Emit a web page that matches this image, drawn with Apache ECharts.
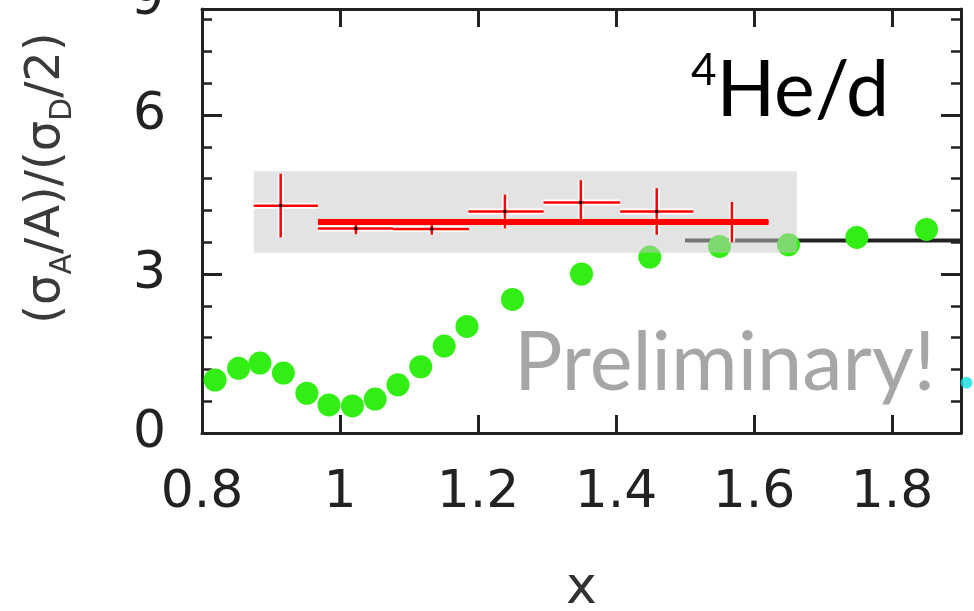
<!DOCTYPE html>
<html>
<head>
<meta charset="utf-8">
<script src="https://cdn.jsdelivr.net/npm/echarts@6.0.0/dist/echarts.min.js"></script>
<style>
html, body { margin: 0; padding: 0; background: #fff; }
#main { width: 974px; height: 611px; }
</style>
</head>
<body>
<div id="main"></div>
<script>
// axis ranges / ticks
var xMin = 0.8, xMax = 1.9, xStep = 0.2;
var yMin = 0, yMax = 8, yStep = 3;

// green points
var greenX = [0.819, 0.853, 0.884, 0.918, 0.952, 0.984, 1.018, 1.051, 1.084, 1.117,
              1.151, 1.184, 1.250, 1.350, 1.449, 1.550, 1.650, 1.749, 1.850];
var greenY = [1.00, 1.22, 1.32, 1.13, 0.75, 0.53, 0.51, 0.64, 0.91, 1.25,
              1.64, 2.01, 2.52, 3.00, 3.32, 3.52, 3.55, 3.69, 3.84];

// cyan point, cut by the right edge
var cyanX = [1.908];
var cyanY = [0.95];

// red 4He/d points: centre, x bin edges, y error
var redX   = [0.914, 1.023, 1.133, 1.239, 1.349, 1.459, 1.568];
var redY   = [4.29, 3.86, 3.85, 4.18, 4.35, 4.18, 3.98];
var redXLo = [0.875, 0.968, 1.077, 1.186, 1.295, 1.406, 1.512];
var redXHi = [0.968, 1.077, 1.187, 1.295, 1.406, 1.512, 1.621];
var redErr = [0.60, 0.11, 0.11, 0.32, 0.42, 0.44, 0.38];

// red plateau line
var fitX = [0.968, 1.621];
var fitY = [3.98, 3.98];

// black line
var blackX = [1.50, 1.90];
var blackY = [3.63, 3.63];

// grey band
var bandX = [0.875, 1.662];
var bandY = [3.40, 4.94];

function pairs(xs, ys) {
    return xs.map(function (x, i) { return [x, ys[i]]; });
}

var errData = redX.map(function (x, i) {
    return [x, redY[i], redXLo[i], redXHi[i], redErr[i]];
});

var axisColor = '#222';
var tickFont = 'DejaVu Sans';

function renderErr(params, api) {
    var x = api.value(0), y = api.value(1), e = api.value(4);
    var l = api.coord([api.value(2), y]);
    var r = api.coord([api.value(3), y]);
    var t = api.coord([x, y + e]);
    var b = api.coord([x, y - e]);
    var c = api.coord([x, y]);
    var halo = { stroke: '#fff', lineWidth: 6 };
    var red = { stroke: '#ff0000', lineWidth: 2.5 };
    return {
        type: 'group',
        children: [
            { type: 'line', shape: { x1: l[0], y1: l[1], x2: r[0], y2: r[1] }, style: halo },
            { type: 'line', shape: { x1: t[0], y1: t[1], x2: b[0], y2: b[1] }, style: halo },
            { type: 'line', shape: { x1: l[0], y1: l[1], x2: r[0], y2: r[1] }, style: red },
            { type: 'line', shape: { x1: t[0], y1: t[1], x2: b[0], y2: b[1] }, style: red },
            { type: 'rect', shape: { x: c[0] - 1.5, y: c[1] - 1.5, width: 3, height: 3 }, style: { fill: '#000' } }
        ]
    };
}

function renderBand(params, api) {
    var p0 = api.coord([api.value(0), api.value(3)]);
    var p1 = api.coord([api.value(1), api.value(2)]);
    return {
        type: 'rect',
        shape: { x: p0[0], y: p0[1], width: p1[0] - p0[0], height: p1[1] - p0[1] },
        style: { fill: 'rgba(200,200,200,0.5)' }
    };
}

var xAxisBase = {
    type: 'value', min: xMin, max: xMax, interval: xStep,
    axisLine: { show: true, onZero: false, lineStyle: { color: axisColor, width: 3 } },
    axisTick: { show: true, inside: true, length: 18, lineStyle: { color: axisColor, width: 3 } },
    splitLine: { show: false }
};
var yAxisBase = {
    type: 'value', min: yMin, max: yMax, interval: yStep,
    axisLine: { show: true, onZero: false, lineStyle: { color: axisColor, width: 3 } },
    axisTick: { show: true, inside: true, length: 20, lineStyle: { color: axisColor, width: 3 } },
    minorTick: { show: true, splitNumber: 5, length: 10, lineStyle: { color: axisColor, width: 2.5 } },
    splitLine: { show: false }
};

var option = {
    animation: false,
    backgroundColor: '#fff',
    grid: { left: 202, right: 13, top: 9, bottom: 178, containLabel: false, outerBoundsMode: 'none' },
    xAxis: [
        Object.assign({}, xAxisBase, {
            position: 'bottom',
            axisLabel: { margin: 34, fontSize: 52, fontFamily: tickFont, color: axisColor, showMaxLabel: false },
            name: 'x', nameLocation: 'middle', nameGap: 130,
            nameTextStyle: { fontSize: 52, fontFamily: tickFont, color: '#333' }
        }),
        Object.assign({}, xAxisBase, { position: 'top', axisLabel: { show: false } })
    ],
    yAxis: [
        Object.assign({}, yAxisBase, {
            position: 'left',
            axisLabel: { margin: 36, fontSize: 52, fontFamily: tickFont, color: axisColor, showMaxLabel: false }
        }),
        Object.assign({}, yAxisBase, { position: 'right', axisLabel: { show: false } })
    ],
    graphic: [
        {
            type: 'text', x: 47, y: 178, rotation: Math.PI / 2,
            style: {
                text: '{a|(σ}{s|A}{a|/A)/(σ}{s|D}{a|/2)}',
                align: 'center', verticalAlign: 'middle',
                rich: {
                    a: { fontSize: 48, fontFamily: tickFont, fill: '#3a3a3a', lineHeight: 62 },
                    s: { fontSize: 30, fontFamily: tickFont, fill: '#3a3a3a', lineHeight: 34, verticalAlign: 'bottom' }
                }
            }
        },
        {
            type: 'text', x: 164, y: 0,
            style: { text: '9', fontSize: 52, fontFamily: tickFont, fill: axisColor, align: 'right', verticalAlign: 'middle' }
        },
        {
            type: 'text', x: 691, y: 91,
            style: {
                text: '{p|4}{m|He/d}',
                align: 'left', verticalAlign: 'middle',
                rich: {
                    m: { fontSize: 77, fontFamily: 'Lato', fill: '#000', lineHeight: 84 },
                    p: { fontSize: 44, fontFamily: 'Lato', fill: '#000', lineHeight: 46, verticalAlign: 'top' }
                }
            }
        },
        {
            type: 'text', x: 514, y: 364,
            style: { text: 'Preliminary!', fontSize: 81, fontFamily: 'Lato', fill: '#a6a6a6', align: 'left', verticalAlign: 'middle' }
        }
    ],
    series: [
        {
            type: 'scatter', z: 2, symbolSize: 23,
            itemStyle: { color: '#33ee14', opacity: 1 },
            data: pairs(greenX, greenY)
        },
        {
            type: 'scatter', z: 2, symbolSize: 12, clip: false,
            itemStyle: { color: '#10dede' },
            data: pairs(cyanX, cyanY)
        },
        {
            type: 'line', z: 2, symbol: 'none',
            lineStyle: { color: '#222', width: 4 },
            data: pairs(blackX, blackY)
        },
        {
            type: 'custom', z: 3, renderItem: renderBand,
            data: [[bandX[0], bandX[1], bandY[0], bandY[1]]]
        },
        {
            type: 'custom', z: 4, renderItem: renderErr,
            data: errData
        },
        {
            type: 'line', z: 5, symbol: 'none',
            lineStyle: { color: '#ff0000', width: 6 },
            data: pairs(fitX, fitY)
        }
    ]
};

var myChart = echarts.init(document.getElementById('main'));
myChart.setOption(option, true);
</script>
</body>
</html>
